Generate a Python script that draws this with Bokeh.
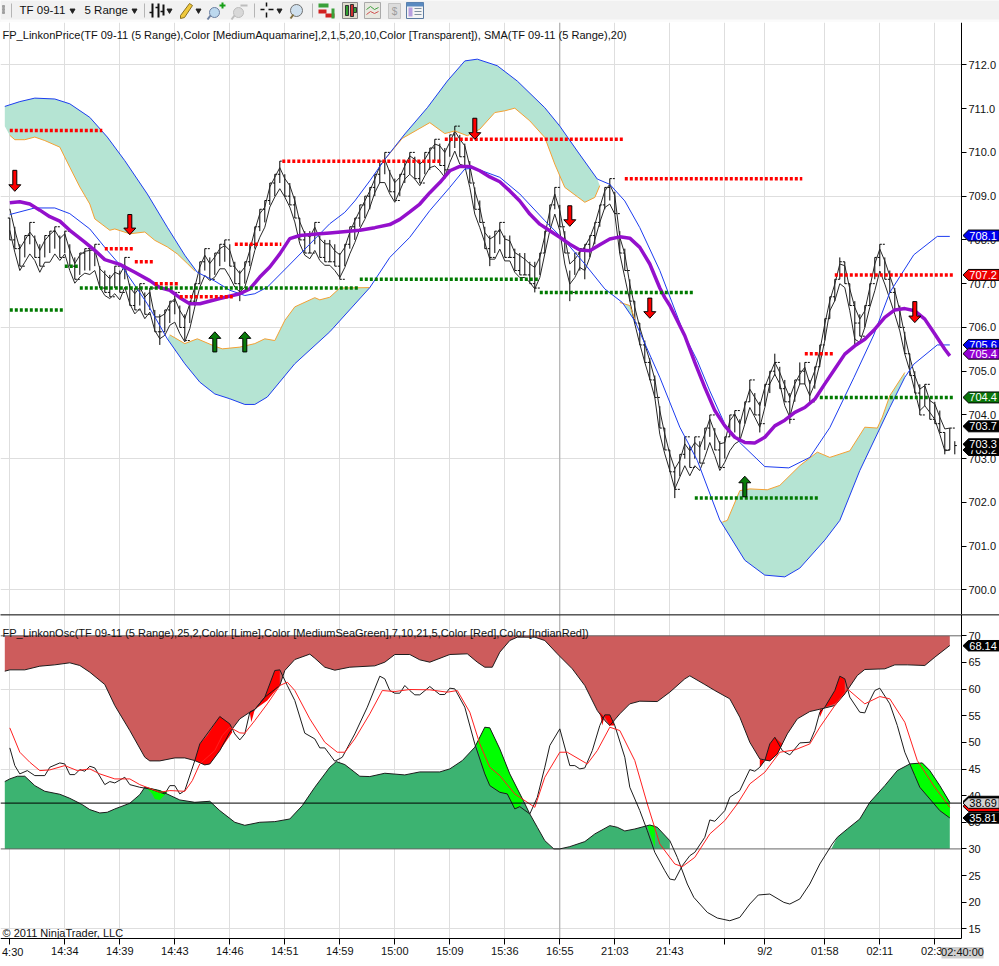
from bokeh.plotting import figure
from bokeh.layouts import column
from bokeh.models import FixedTicker, PrintfTickFormatter, Range1d, LinearAxis
from bokeh.core.properties import value
from bokeh.embed import file_html
from bokeh.resources import INLINE

FONT = "Liberation Sans"

# ---------- price panel data (bar index, price) ----------
bar_high = [
708.5,708.3,707.9,708.1,708.4,708.1,707.9,708.1,708.2,708.3,
708.1,708.2,707.9,707.6,707.7,707.8,707.8,707.9,707.4,707.3,
707.2,707.4,707.3,707.6,707.0,706.9,707.0,706.8,706.9,706.4,
706.3,706.4,706.6,706.8,706.5,706.3,706.6,707.0,707.5,707.8,
707.6,707.7,707.9,708.0,707.9,707.5,707.3,707.5,707.9,708.3,
708.7,708.9,709.3,709.5,709.8,709.5,709.3,709.0,708.5,708.2,
708.2,708.4,708.1,708.0,708.0,707.9,707.7,707.9,708.3,708.5,
708.8,709.0,709.2,709.5,709.8,710.0,709.6,709.4,709.5,709.8,
710.0,709.9,709.8,710.0,710.1,710.3,710.2,710.1,710.4,710.6,
710.4,710.2,709.8,709.2,708.9,708.3,708.1,708.2,708.4,708.1,
708.1,707.8,707.7,707.7,707.5,707.5,707.7,708.2,708.8,709.2,
708.8,708.2,707.3,707.7,707.8,707.9,708.1,708.4,708.8,709.2,
709.4,709.1,708.2,707.8,707.1,706.6,706.1,705.7,705.3,704.9,
704.2,703.7,703.2,702.8,703.1,703.5,703.3,703.5,703.4,703.7,
704.0,703.7,703.4,703.5,704.0,704.1,703.9,704.3,704.8,704.5,
704.3,704.7,705.0,705.4,705.1,704.8,704.5,704.8,705.2,705.2,
704.8,705.1,705.6,706.2,706.7,707.1,707.6,707.5,707.0,706.6,
706.3,706.5,707.0,707.6,707.9,707.6,707.3,706.9,706.5,705.9,
705.4,705.0,704.7,704.7,704.4,704.3,704.1,703.6,703.7,703.4]
bar_low = [
708.0,707.8,707.4,707.6,707.9,707.6,707.4,707.6,707.7,707.8,
707.6,707.7,707.4,707.1,707.2,707.3,707.3,707.4,706.9,706.8,
706.7,706.9,706.8,707.1,706.5,706.4,706.5,706.3,706.4,705.9,
705.6,705.9,706.1,706.3,706.0,705.7,706.1,706.5,707.0,707.3,
707.1,707.2,707.4,707.5,707.4,707.0,706.6,707.0,707.4,707.8,
708.2,708.4,708.8,709.0,709.3,709.0,708.8,708.5,708.0,707.7,
707.7,707.9,707.6,707.5,707.5,707.4,707.1,707.4,707.8,708.0,
708.3,708.5,708.7,709.0,709.3,709.5,709.1,708.9,709.0,709.3,
709.5,709.4,709.3,709.5,709.6,709.8,709.7,709.4,709.9,710.1,
709.9,709.7,709.3,708.7,708.4,707.8,707.4,707.7,707.9,707.6,
707.6,707.3,707.2,707.2,707.0,706.8,707.2,707.7,708.3,708.7,
708.3,707.7,706.6,707.2,707.3,707.1,707.6,707.9,708.3,708.7,
708.9,708.6,707.7,707.3,706.6,706.1,705.6,705.2,704.8,704.4,
703.7,703.2,702.7,702.1,702.6,703.0,702.8,703.0,702.9,703.2,
703.5,703.2,702.8,703.0,703.5,703.6,703.4,703.8,704.3,704.0,
703.6,704.2,704.5,704.9,704.6,704.3,703.8,704.3,704.7,704.7,
704.3,704.6,705.1,705.7,706.2,706.6,707.1,707.0,706.5,705.6,
705.8,706.0,706.5,707.1,707.4,707.1,706.8,706.4,706.0,705.4,
704.9,704.5,704.0,704.2,703.9,703.8,703.6,703.1,703.2,703.1]
bar_close = [
708.0,707.8,707.4,708.1,708.4,707.6,707.4,708.1,708.2,708.3,
707.6,708.2,707.4,707.1,707.7,707.8,707.8,707.9,706.9,706.8,
706.7,707.4,706.8,707.6,706.5,706.4,707.0,706.3,706.9,705.9,
705.9,706.4,706.6,706.8,706.0,705.7,706.6,707.0,707.5,707.8,
707.1,707.7,707.9,708.0,707.4,707.0,706.8,707.5,707.9,708.3,
708.7,708.9,709.3,709.5,709.8,709.0,708.8,708.5,708.0,707.7,
707.7,708.4,707.6,707.5,707.5,707.4,707.1,707.9,708.3,708.5,
708.8,709.0,709.2,709.5,709.8,710.0,709.1,708.9,709.5,709.8,
710.0,709.4,709.3,710.0,710.1,710.3,709.7,709.6,710.4,710.6,
709.9,709.7,709.3,708.7,708.4,707.8,707.6,708.2,708.4,707.6,
707.6,707.3,707.2,707.2,707.0,706.9,707.7,708.2,708.8,709.2,
708.3,707.7,706.8,707.7,707.8,707.9,708.1,708.4,708.8,709.2,
709.4,708.6,707.7,707.3,706.6,706.1,705.6,705.2,704.8,704.4,
703.7,703.2,702.7,702.3,703.1,703.5,702.8,703.5,702.9,703.7,
704.0,703.2,702.8,703.5,704.0,704.1,703.4,704.3,704.8,704.0,
703.8,704.7,705.0,705.2,704.6,704.3,703.9,704.8,705.0,705.2,
704.3,705.1,705.6,706.2,706.7,707.1,707.5,707.0,706.5,706.1,
705.8,706.5,707.0,707.6,707.9,707.1,706.8,706.4,706.0,705.4,
704.9,704.5,704.0,704.7,703.9,703.8,703.6,703.2,703.7,703.3]
line_upper = [
708.71,708.22,707.80,707.99,708.18,708.03,707.76,707.99,708.12,708.22,
708.03,708.14,707.76,707.46,707.65,707.74,707.76,707.77,707.34,707.23,
707.11,707.26,707.21,707.42,706.92,706.77,706.92,706.69,706.81,706.24,
706.24,706.31,706.54,706.66,706.39,706.20,706.54,706.92,707.38,707.65,
707.46,707.61,707.80,707.87,707.76,707.38,707.23,707.38,707.76,708.22,
708.60,708.75,709.21,709.43,709.65,709.40,709.24,708.90,708.41,708.14,
708.06,708.29,708.03,707.91,707.91,707.75,707.66,707.83,708.17,708.44,
708.67,708.89,709.12,709.39,709.69,709.84,709.54,709.31,709.43,709.69,
709.92,709.84,709.73,709.84,710.03,710.19,710.15,710.00,710.23,710.49,
710.30,710.15,709.69,709.12,708.74,708.17,708.02,708.09,708.25,708.02,
707.98,707.71,707.64,707.56,707.45,707.37,707.60,708.09,708.67,709.05,
708.67,708.06,707.45,707.56,707.71,707.85,708.05,708.35,708.75,709.12,
709.27,709.01,708.06,707.68,706.99,706.46,706.00,705.62,705.24,704.82,
704.10,703.56,703.11,702.77,702.96,703.34,703.18,703.37,703.26,703.56,
703.91,703.60,703.34,703.37,703.87,704.02,703.79,704.21,704.59,704.40,
704.21,704.63,704.93,705.20,704.97,704.67,704.40,704.71,704.93,705.09,
704.71,705.01,705.47,706.08,706.61,706.99,707.45,707.41,706.88,706.46,
706.19,706.38,706.91,707.45,707.79,707.52,707.18,706.84,706.38,705.81,
705.32,704.90,704.59,704.67,704.33,704.25,703.95,703.68,703.70]
line_lower = [
708.22,707.72,707.30,707.49,707.68,707.53,707.26,707.49,707.49,707.68,
707.53,707.68,707.30,707.01,707.15,707.24,707.21,707.30,706.92,706.73,
706.66,706.77,706.63,706.92,706.54,706.31,706.43,706.20,706.35,705.93,
705.74,705.82,706.05,706.12,705.86,705.67,705.97,706.47,706.92,707.19,
707.07,707.15,707.34,707.34,707.15,706.92,706.81,706.92,707.30,707.76,
708.06,708.29,708.75,708.98,709.17,708.98,708.75,708.41,707.91,707.65,
707.57,707.76,707.53,707.42,707.42,707.30,707.14,707.37,707.68,707.94,
708.25,708.47,708.74,709.08,709.31,709.31,709.05,708.86,709.12,709.39,
709.50,709.39,709.24,709.46,709.65,709.69,709.58,709.43,709.77,710.03,
709.73,709.69,709.20,708.59,708.28,707.94,707.56,707.56,707.79,707.52,
707.52,707.26,707.14,707.14,707.03,706.88,707.14,707.68,708.21,708.59,
708.21,707.45,706.99,707.14,707.37,707.30,707.60,708.00,708.40,708.74,
708.82,708.59,707.68,707.14,706.61,706.08,705.62,705.20,704.82,704.40,
703.56,703.11,702.73,702.31,702.58,702.84,702.61,702.84,702.73,703.03,
703.37,703.07,702.73,702.92,703.18,703.34,703.41,703.79,704.17,703.95,
703.72,704.17,704.71,704.93,704.71,704.21,703.95,704.40,704.71,704.71,
704.44,704.71,705.16,705.70,706.38,706.61,707.00,706.91,706.38,705.73,
705.66,706.00,706.46,706.84,707.29,706.99,706.65,706.30,705.92,705.39,
705.01,704.55,704.10,704.21,704.06,703.90,703.56,703.18,703.20]

sma_k = [0,2,4,6,8,10,12,15,17,19,22,25,28,30,32,34,36,38,42,46,48,50,52,54,56,58,62,64,70,73,76,78,80,82,84,86,88,90,92,94,96,98,100,102,104,106,108,110,112,114,116,118,120,122,124,126,128,130,131,132,135,137,139,141,143,145,147,149,151,153,155,157,159,161,163,165,167,169,171,173,175,177,179,181,183,185,187,188]
sma_v = [708.85,708.87,708.82,708.68,708.53,708.43,708.22,707.95,707.76,707.55,707.44,707.26,707.07,706.91,706.85,706.68,706.54,706.54,706.66,706.77,706.88,707.15,707.38,707.68,708.03,708.10,708.14,708.16,708.22,708.28,708.35,708.47,708.64,708.82,709.08,709.31,709.58,709.68,709.68,709.58,709.44,709.33,709.12,708.89,708.59,708.36,708.21,708.06,707.90,707.77,707.75,707.89,708.02,708.07,708.04,707.83,707.45,706.90,706.68,706.50,705.81,705.20,704.63,704.10,703.75,703.49,703.37,703.36,703.49,703.75,703.88,704.06,704.17,704.36,704.71,705.05,705.39,705.58,705.73,705.96,706.23,706.40,706.43,706.38,706.19,705.85,705.50,705.35]

band_up_k = [-1,2,5,9,12,16,19.5,23,27.5,31.5,35,37.5,41,44,47,49,51.5,55.5,64,67,69,72,75,79,83.5,87.5,91,93.5,97.5,101.5,107,110,113.5,117.5,120,123,126,130,135,137.5,140,143,146,151,155.8,160,164,168.8,172.8,176,180.8,185.5,188]
band_up_v = [711.05,711.16,711.24,711.22,711.11,710.8,710.35,709.81,709.05,708.29,707.65,707.26,707.06,706.85,706.73,706.77,706.92,707.38,708.37,708.63,708.89,709.35,709.84,710.42,711.02,711.63,712.09,712.13,711.98,711.63,711.02,710.6,710.03,709.39,709.27,708.89,708.28,707.3,705.81,705.24,704.55,703.79,703.37,702.82,702.79,703.03,703.71,704.85,705.83,706.8,707.66,708.08,708.08]
band_lo_k = [0,5,9,12,16,19.5,23,27.5,31.5,35,38,41,44,47,49,51.5,57,64,72,76,80,84,88,91,93,98,102,107,111,115,119,122.5,125,130,134,137.5,142,147,151,155,158,163,166,170,176,179,180.8,185.5,188]
band_lo_v = [708.58,708.73,708.73,708.6,708.25,707.76,707.3,706.54,705.74,705.17,704.75,704.48,704.37,704.24,704.24,704.41,705.17,705.9,706.91,707.6,708.06,708.67,709.2,709.62,709.64,709.43,709.05,708.44,707.98,707.45,706.88,706.57,706.15,704.86,703.72,702.96,701.6,700.68,700.34,700.3,700.5,701.14,701.59,702.73,704.17,704.86,705.16,705.6,705.6]

or1_k = [0,1,3,5,7,10,12,14,16,17,20,21,24,27,29,31.5,33.5,35.5,37]
or1_v = [710.39,710.29,710.29,710.35,710.27,710.12,709.66,709.21,708.82,708.48,708.22,708.25,708.14,708.18,707.99,707.84,707.68,707.46,707.29]
or2_k = [32,35,37.5,41,42.5,46,49,51,53,55,57,61,62,64,66,72]
or2_v = [705.83,705.63,705.74,705.57,705.51,705.55,705.63,705.74,705.70,706.16,706.47,706.68,706.63,706.69,706.90,706.91]
or3_k = [75,78.5,84,87,89,91.5,94,97,99,101,104,107,109,111,115,117,118]
or3_v = [709.84,710.32,710.68,710.43,710.49,710.38,710.53,710.91,710.95,711.01,710.72,710.34,709.73,709.20,708.86,708.97,709.24]
or4_k = [122,124,125]
or4_v = [706.57,706.50,706.19]
or5_k = [142.5,143.5,146,148,151.5,154,158,161.5,164,168,171,173.5,174.5,176,179]
or5_v = [701.55,701.59,702.27,702.31,702.29,702.39,702.84,703.15,703.03,703.18,703.72,703.70,703.95,704.44,704.97]

red_start = [0,19,25,29,34,45,54.5,87,123,159,165]
red_end   = [18.5,24.7,28.7,33.7,44.7,54.3,86.5,122.7,158.5,164.7,188.7]
red_level = [710.5,707.8,707.5,707.0,706.7,707.9,709.8,710.3,709.4,705.4,707.2]
green_start = [0,11,14,70,106,137,162]
green_end   = [10.7,13.7,69.7,105.7,136.7,161.7,188.7]
green_level = [706.4,707.4,706.9,707.1,706.8,702.1,704.4]

down_k = [1,24,93,112,128,181]
down_tail = [709.59,708.58,710.78,708.78,706.67,706.59]
down_tip = [709.11,708.12,710.30,708.31,706.21,706.11]
up_k = [41,47,147]
up_tail = [705.44,705.44,702.13]
up_tip = [705.90,705.90,702.60]

# ---------- oscillator panel data ----------
osc_top_k = [-1,0,3,6,9,12,14,16,19,21,24,27,28,30,33,35,37,39,40,42,44,46,48,49,51,54,55,57,60,61,63,65,68,73,75,77,80,82,84,88,91.5,93.5,95,96.5,98,100,101.5,105,107,109.5,112.5,115,117.5,119,120,122,124,126,129.5,132,135,136,139,141,144,146,148,150,152,153.5,155.5,157.5,160,162,165,167,169.5,171,175,177,179.5,183,185,188]
osc_top_v = [63.36,63.61,63.61,64.3,64.55,64.93,64.43,63.17,60.86,56.91,52.22,47.21,46.52,46.52,47.08,47.08,46.58,45.77,45.95,48.46,51.9,54.41,55.66,56.16,58.48,60.67,63.49,65.55,66.56,65.8,64.11,63.55,64.11,64.36,65.05,66.49,66.49,65.49,65.05,66.49,66.62,65.05,64.11,64.11,66.93,69.12,69.75,69.75,69.12,66.62,63.8,60.67,55.97,54.09,53.16,55.35,57.23,57.73,57.66,59.42,61.92,62.49,60.86,59.73,58.17,54.72,50.02,46.89,46.52,47.83,51.59,54.41,55.79,56.22,56.91,59.1,62.55,63.68,63.8,64.55,64.55,64.43,65.99,68.18]
osc_low_k = [-1,0,1.5,3,5,7,10,12,14.5,16,18,19.5,21,24,26,27,30,34,37,40,42,45,47,50,53,56,58.5,61,64,65.3,67,70,72,75,79,82,86,88,90.5,93,95,96,98,100,102.7,104,105.5,107,108.8,110,112,115,117,120,121.5,123,125,128,129.5,132,133.5,135.5,136.8,139.5,141.5,144,146,148,149.7,152,154.8,156,158,160,162,164.5,165.5,167.5,170,172,175,177.5,180,182.5,184,186,188]
osc_low_v = [42.64,43.14,43.64,43.64,41.88,40.82,40.26,39.5,38.31,37.38,36.75,36.88,37.5,38.57,40.19,41.57,40.95,39.19,38.75,38.94,37.19,35.0,34.43,35.0,35.12,35.62,38.13,41.57,45.33,46.39,45.83,43.64,43.58,44.2,43.89,44.45,44.45,45.02,46.58,49.09,52.84,52.72,48.77,44.08,39.07,36.56,34.06,31.55,30.0,30.0,30.43,31.37,32.81,34.37,34.06,33.37,33.74,34.49,34.06,31.55,28.42,23.41,20.91,18.09,17.03,16.52,17.15,19.65,21.35,21.53,19.97,19.65,20.6,23.41,27.17,30.93,32.18,33.74,35.62,38.75,41.88,44.7,45.95,46.14,44.7,41.88,38.75]
fast_k = [0,1,2,3.5,5,7,8,10,11,12,13,14,15,16,17,19,20,21,23,24,26,28,31,32,33,34,35,37,38,42,44,45,46,47,48,49,51,53,54,55.5,57,59,61,62,63,65,66.5,69,71.5,74,75,76,77,78,79,80,81,82,84,86,87,88,89,91,93,95,96,98,99.5,101,102,104,105.5,107,108,110,112,113,114,115,116.5,118,119,120,121,123,124,126,127.5,129,131,132,133,134.5,136,137,139,140,141,143,144,146,148,149,150,151,152,153,154.5,156,158,160,161,162,163,165,166,167,168,170,171,172,173,174,176,177.5,179,181,182,184,186,188]
fast_v = [48.96,45.64,44.08,44.7,43.76,43.76,45.33,46.14,45.95,43.95,43.95,44.89,44.58,45.52,45.2,42.07,42.64,42.39,43.45,42.07,41.57,41.26,40.32,41.88,41.88,40.32,40.95,46.58,49.71,54.85,53.47,51.59,50.46,51.59,55.66,56.16,58.48,63.49,63.61,60.67,57.85,51.72,50.65,48.96,48.96,46.46,47.21,51.59,56.6,62.42,61.92,59.73,59.23,59.23,60.67,59.73,58.92,58.92,60.48,58.98,58.98,60.17,60.04,56.6,49.71,44.08,41.88,40.63,40.32,37.5,37.94,36.56,39.69,45.33,49.4,52.53,45.64,45.64,45.02,45.2,48.46,53.16,55.16,55.16,53.16,47.21,41.57,37.19,33.43,29.36,25.92,24.35,24.16,26.86,28.73,29.36,32.18,35.44,35.19,37.19,39.69,40.95,44.89,44.58,45.33,46.58,49.71,50.96,48.46,47.65,49.9,50.02,52.22,55.66,56.6,59.73,62.42,61.92,58.48,55.66,55.54,57.85,59.73,60.17,57.23,53.16,48.15,43.76,41.57,39.38,37.19,35.81]
slow_k = [0,2,4,6,8,11,13.5,16,18,21,24,26,30,32,35,36.5,38,41,42.5,44,46,47,49,51.5,54,55.5,57,60,63,65.5,67,69,72,74.5,77,80,84,87.5,89.5,92,94,96,98,101,105,107,110,111.5,115.5,117.5,120,122,125,127.5,130,133,134.5,137,140,143,145.5,148,151,154,157,160,162,165,167.5,171,174,176,179,181.5,185,188]
slow_v = [52.72,48.15,46.27,44.7,44.83,45.64,44.7,45.02,44.08,43.14,43.14,42.07,40.63,40.95,40.82,42.82,45.95,48.46,51.28,52.84,51.78,51.72,54.09,57.23,60.67,61.3,59.73,54.41,50.02,48.15,48.15,50.65,55.35,59.73,59.54,59.92,59.86,59.42,59.73,55.66,49.71,45.33,43.76,40.32,37.81,43.45,48.15,48.15,45.95,48.46,52.84,52.22,46.58,38.44,30.93,27.17,26.67,28.42,32.81,35.31,38.44,42.2,44.39,48.15,48.58,49.71,52.84,56.91,60.04,57.23,58.6,58.17,53.78,46.58,41.57,37.81]

hot_red_k = [[37,38,39.5,42,44,44.5,42,40,39],[48,49,48.3],[49,51,53,54,54,51.5],[118,118.5,119,120,121,120,119],[150,151,150],[151,152,153,154.5,153.5,152],[162,162.7,162],[163,165,166,167,167,165]]
hot_red_v = [[46.58,49.71,51.28,54.91,53.47,51.9,48.46,45.95,45.77],[55.66,56.16,53.78],[56.16,58.48,63.49,63.61,60.67,57.85],[55.66,53.16,55.16,55.16,53.16,53.16,54.72],[46.89,46.58,45.33],[46.58,49.71,50.96,49.71,47.71,46.52],[56.22,56.22,54.72],[56.6,59.73,62.42,61.92,59.1,57.23]]
hot_green_k = [[27.3,30,31.5,30,29,28.5],[93.3,95,96,98,100,102.7,102,101,99.5,98,96,95],[127.5,129,129],[180,182.5,184,186,188,188,186,184,182,181]]
hot_green_v = [[41.57,40.95,40.63,39.19,39.38,40.32],[49.71,52.84,52.72,48.77,44.08,39.07,37.94,37.5,40.32,40.63,41.88,44.08],[34.4,34.4,30.3],[45.95,46.14,44.7,41.88,38.75,35.81,37.19,39.38,41.57,43.76]]

pane_line = 38.6
x_ticks = [0,11,22,33,44,55,66,77,88,99,110,121,132,143,151,163,174,185]
x_labels = ["","14:34","14:39","14:43","14:46","14:51","14:59","15:00","15:09","15:36","16:55","21:03","21:43","","9/2","01:58","02:11","02:30"]
price_ticks = [700,701,702,703,704,705,706,707,708,709,710,711,712]
price_grid = [700,703,706,709,712]
osc_ticks = [15,20,25,30,35,40,45,50,55,60,65,70]
osc_grid = [15,45,60]

price_tags = [(703.2,"703.2","#000000","#ffffff"),(703.33,"703.3","#000000","#ffffff"),(703.74,"703.7","#000000","#ffffff"),
              (704.4,"704.4","#0b760b","#ffffff"),(705.6,"705.6","#0000ee","#ffffff"),(705.4,"705.4","#9400d3","#ffffff"),
              (707.2,"707.2","#ee0000","#ffffff"),(708.1,"708.1","#0000ee","#ffffff")]
osc_tags = [(68.14,"68.14","#000000","#ffffff"),(38.9,"","#000000","#ffffff"),(38.0,"","#ff0000","#ffffff"),
            (35.81,"35.81","#000000","#ffffff"),(38.6,"38.69","#d3d3d3","#000000")]

PRICE_TITLE = "FP_LinkonPrice(TF 09-11 (5 Range),Color [MediumAquamarine],2,1,5,20,10,Color [Transparent]), SMA(TF 09-11 (5 Range),20)"
OSC_TITLE = "FP_LinkonOsc(TF 09-11 (5 Range),25,2,Color [Lime],Color [MediumSeaGreen],7,10,21,5,Color [Red],Color [IndianRed])"
COPY = "\u00a9 2011 NinjaTrader, LLC"

TEAL = "#b5e4d3"
ORANGE = "#f5a033"
BLUE = "#1c3cf0"
BLACK = "#262626"
GRID = "#dedede"
KMIN, KAXIS, KMAX = -1.86, 190.34, 197.94


def pick(ks, vs, lo, hi):
    pts = [(k, v) for k, v in zip(ks, vs) if lo <= k <= hi]
    return [a for a, _ in pts], [b for _, b in pts]


def tag(fig, y, text, fill, color, half):
    fig.patch([190.64, 191.74, 197.9, 197.9, 191.74], [y, y + half, y + half, y - half, y - half],
              fill_color=fill, line_color="#000000", line_width=1, level="annotation")
    if text:
        fig.text([191.9], [y], text=[text], text_color=color, text_font=value(FONT), text_font_size="11px",
                 text_baseline="middle", level="annotation")


def style_axis(ax):
    ax.major_label_text_font = FONT
    ax.major_label_text_font_size = "11px"
    ax.major_label_text_color = "#111111"
    ax.major_tick_in = 0
    ax.major_tick_line_color = "#000000"
    ax.axis_line_color = "#000000"
    ax.minor_tick_line_color = None


# ---------- toolbar ----------
tb = figure(width=999, height=22, x_range=Range1d(0, 999), y_range=Range1d(22, 0), output_backend="svg",
            toolbar_location=None, x_axis_location=None, y_axis_location=None, min_border=0,
            background_fill_color="#f1f1f1", border_fill_color="#f1f1f1", outline_line_color=None)
tb.grid.visible = False
tb.quad(left=[0], right=[999], top=[19], bottom=[22], fill_color="#fbfbfb", line_color=None)
for sx in [11, 144, 254, 312]:
    tb.segment([sx], [3], [sx], [17], line_color="#b5b5b5")
tb.scatter([3, 3, 3], [6, 9, 12], size=2, marker="square", color="#a0a0a0")
tb.text([19, 84], [9.5, 9.5], text=["TF 09-11", "5 Range"], text_font=value(FONT), text_font_size="11.5px",
        text_baseline="middle", text_color="#111111")
tb.scatter([72, 134, 169, 198, 279], [10, 10, 10, 10, 10], marker="inverted_triangle", size=5, color="#222222")
tb.segment([152, 158, 163], [3, 3, 4], [152, 158, 163], [17, 17, 15], line_color="#111111", line_width=2)
tb.segment([149, 155, 160], [12, 7, 11], [152, 158, 163], [12, 7, 11], line_color="#111111", line_width=1.5)
tb.patch([180, 189, 192, 184, 180], [15, 3, 5, 17, 18], fill_color="#f0c93c", line_color="#8a7020")
tb.circle([214, 238], [12, 12], radius=5, fill_color=["#bcd8ee", "#d8d8d8"], line_color=["#6c7fa0", "#bdbdbd"])
tb.segment([210, 234], [15, 15], [207, 231], [19, 19], line_color=["#6c7fa0", "#bdbdbd"], line_width=2)
tb.segment([222, 219, 240], [2, 5, 5], [222, 225, 247], [8, 5, 5], line_color=["#18a018", "#18a018", "#bdbdbd"], line_width=2)
tb.segment([260, 268, 266, 266], [9, 9, 2, 12], [264, 273, 266, 266], [9, 9, 6, 17], line_color="#111111", line_width=1.5)
tb.circle([296], [10], radius=6, fill_color="#cfe0ee", line_color="#707070")
tb.segment([293], [14], [290], [18], line_color="#807040", line_width=2)
tb.quad([318, 318, 325, 331], [328, 326, 334, 334], [3, 9, 13, 8], [7, 13, 17, 18], fill_color=["#3aa03a", "#d02020", "#d02020", "#3aa03a"], line_color=None)
tb.quad([342], [357], [2], [18], fill_color="#dfdccc", line_color="#888888")
tb.quad([345, 350, 353], [348, 353, 356], [5, 4, 7], [15, 16, 12], fill_color=["#30a030", "#cc3030", "#30a030"], line_color="#333333")
tb.quad([364], [380], [2], [18], fill_color="#e8e8e0", line_color="#aaaaaa")
tb.line([366, 370, 374, 378], [9, 6, 9, 7], line_color="#40a040")
tb.line([366, 370, 374, 378], [14, 11, 13, 11], line_color="#d05050")
tb.quad([388], [400], [3], [18], fill_color="#dcdcdc", line_color="#c4c4c4")
tb.text([394], [11], text=["$"], text_font=value(FONT), text_font_size="10px", text_align="center",
        text_baseline="middle", text_color="#9c9c9c")
tb.quad([406], [423], [2], [18], fill_color="#f4f4f4", line_color="#5a7aa0")
tb.quad([406, 408], [423, 412], [2, 7], [6, 16], fill_color=["#5a8ac0", "#b8a0e0"], line_color=None)
tb.segment([414, 414, 414], [8, 11, 14], [421, 421, 421], [8, 11, 14], line_color="#8090a0")

# ---------- price panel ----------
P_MIN, P_MAX = 699.44, 712.968
p = figure(width=999, height=592, x_range=Range1d(KMIN, KMAX), y_range=Range1d(P_MIN, P_MAX), output_backend="svg",
           toolbar_location=None, x_axis_location=None, y_axis_location=None, min_border=0, outline_line_color=None,
           background_fill_color="#ffffff", border_fill_color="#ffffff")
p.ygrid.ticker = FixedTicker(ticks=price_grid)
p.xgrid.ticker = FixedTicker(ticks=x_ticks)
p.grid.grid_line_color = GRID
pa = LinearAxis(fixed_location=KAXIS, ticker=FixedTicker(ticks=price_ticks), formatter=PrintfTickFormatter(format="%.1f"),
                major_tick_out=5, major_label_standoff=2)
style_axis(pa)
p.add_layout(pa, "right")
p.quad([KAXIS], [KMAX], [P_MAX], [P_MIN], fill_color="#ffffff", line_color=None)
p.segment([110], [P_MIN], [110], [P_MAX], line_color="#a8a8a8", line_width=1)

xa, ya = pick(band_up_k, band_up_v, -1, 37.5)
p.patch(xa + or1_k[::-1] + [-1], ya + or1_v[::-1] + [710.6], fill_color=TEAL, line_color=None)
xa, ya = pick(band_lo_k, band_lo_v, 31.5, 72)
p.patch(xa + or2_k[::-1], ya + or2_v[::-1], fill_color=TEAL, line_color=None)
xa, ya = pick(band_up_k, band_up_v, 75, 117.5)
p.patch(xa + or3_k[::-1], ya + or3_v[::-1], fill_color=TEAL, line_color=None)
xa, ya = pick(band_lo_k, band_lo_v, 122.5, 125)
p.patch(xa + or4_k[::-1], ya + or4_v[::-1], fill_color=TEAL, line_color=None)
xa, ya = pick(band_lo_k, band_lo_v, 142, 179)
p.patch(xa + or5_k[::-1], ya + or5_v[::-1], fill_color=TEAL, line_color=None)

bk = list(range(len(bar_high)))
bar_open = [bar_high[0]] + bar_close[:-1]
p.segment(bk, bar_high, bk, bar_low, line_color="#000000", line_width=1)
p.segment([k - 0.4 for k in bk], bar_open, bk, bar_open, line_color="#000000", line_width=1)
p.segment(bk, bar_close, [k + 0.4 for k in bk], bar_close, line_color="#000000", line_width=1)
lk = list(range(len(line_upper)))
p.line(lk, line_upper, line_color=BLACK, line_width=1)
p.line(lk, line_lower, line_color=BLACK, line_width=1)

for ok, ov in [(or1_k, or1_v), (or2_k, or2_v), (or3_k, or3_v), (or4_k, or4_v), (or5_k, or5_v)]:
    p.line(ok, ov, line_color=ORANGE, line_width=1)
p.line(band_up_k, band_up_v, line_color=BLUE, line_width=1)
p.line(band_lo_k, band_lo_v, line_color=BLUE, line_width=1)
p.line(sma_k, sma_v, line_color="#9410cc", line_width=3.5)

for a, b, y in zip(red_start, red_end, red_level):
    p.line([a, b], [y, y], line_color="#ff0000", line_width=3.5, line_dash="3 2")
for a, b, y in zip(green_start, green_end, green_level):
    p.line([a, b], [y, y], line_color="#007a00", line_width=3.5, line_dash="3 2")


def arrows(ks, tails, tips, color):
    xs, ys = [], []
    for k, t, h in zip(ks, tails, tips):
        head = h + (0.15 if t > h else -0.15)
        xs.append([k - 0.4, k + 0.4, k + 0.4, k + 1.2, k, k - 1.2, k - 0.4])
        ys.append([t, t, head, head, h, head, head])
    p.patches(xs, ys, fill_color=color, line_color="#000000", line_width=1)


arrows(down_k, down_tail, down_tip, "#ff0000")
arrows(up_k, up_tail, up_tip, "#0a7a0a")

p.text([-1.46], [712.69], text=[PRICE_TITLE], text_font=value(FONT), text_font_size="11.05px", text_baseline="middle", text_color="#111111")

for y, t, f, c in price_tags:
    tag(p, y, t, f, c, 0.125)

# ---------- oscillator panel ----------
O_AXIS, O_TOP, O_MIN = 13.18, 74.0, 7.93
q = figure(width=999, height=352, x_range=Range1d(KMIN, KMAX), y_range=Range1d(O_MIN, O_TOP), output_backend="svg",
           toolbar_location=None, x_axis_location=None, y_axis_location=None, min_border=0, outline_line_color=None,
           background_fill_color="#ffffff", border_fill_color="#ffffff")
q.ygrid.ticker = FixedTicker(ticks=osc_grid)
q.xgrid.ticker = FixedTicker(ticks=x_ticks)
q.grid.grid_line_color = GRID
qy = LinearAxis(fixed_location=KAXIS, ticker=FixedTicker(ticks=osc_ticks), bounds=(O_AXIS, O_TOP),
                major_tick_out=5, major_label_standoff=2)
style_axis(qy)
q.add_layout(qy, "right")
qx = LinearAxis(fixed_location=O_AXIS, ticker=FixedTicker(ticks=x_ticks), bounds=(KMIN, KAXIS),
                major_label_overrides={k: l for k, l in zip(x_ticks, x_labels)}, major_tick_out=6, major_label_standoff=0)
style_axis(qx)
q.add_layout(qx, "below")
q.quad([KAXIS], [KMAX], [O_TOP], [O_MIN], fill_color="#ffffff", line_color=None)
q.quad([KMIN], [KMAX], [O_AXIS], [O_MIN], fill_color="#ffffff", line_color=None)
q.segment([110], [O_AXIS], [110], [O_TOP], line_color="#a8a8a8", line_width=1)

q.patch(osc_top_k + [188, -1], osc_top_v + [70, 70], fill_color="#cd5c5c", line_color=None)
xa, ya = pick(osc_low_k, osc_low_v, -1, 132)
q.patch(xa + [132, -1], ya + [30, 30], fill_color="#3cb371", line_color=None)
xa, ya = pick(osc_low_k, osc_low_v, 165.5, 188)
q.patch([164.3] + xa + [188], [30] + ya + [30], fill_color="#3cb371", line_color=None)
q.patches(hot_red_k, hot_red_v, fill_color="#ff0000", line_color=None)
q.patches(hot_green_k, hot_green_v, fill_color="#00ff00", line_color=None)
q.line([KMIN, KAXIS], [70, 70], line_color="#666666", line_width=1)
q.line([KMIN, KAXIS], [30, 30], line_color="#666666", line_width=1)
q.line(osc_top_k, osc_top_v, line_color="#1c1c1c", line_width=1)
q.line(osc_low_k, osc_low_v, line_color="#1c1c1c", line_width=1)
q.line(fast_k, fast_v, line_color="#1c1c1c", line_width=1)
q.line(slow_k, slow_v, line_color="#ff2020", line_width=1)
q.line([KMIN, KAXIS], [pane_line, pane_line], line_color="#000000", line_width=1)

q.text([-1.46], [70.6], text=[OSC_TITLE], text_font=value(FONT), text_font_size="11px", text_baseline="middle", text_color="#111111")
q.text([-1.46], [14.3], text=[COPY], text_font=value(FONT), text_font_size="11px", text_baseline="middle", text_color="#111111")
q.text([-1.56], [10.74], text=["4:30"], text_font=value(FONT), text_font_size="11px", text_baseline="middle", text_color="#111111")

for y, t, f, c in osc_tags:
    tag(q, y, t, f, c, 0.98)

q.line([KMIN, KMAX], [73.93, 73.93], line_color="#000000", line_width=1, level="annotation")
q.quad([186.34], [194.74], [11.59], [9.43], fill_color="#cfcfcf", line_color=None, level="annotation")
q.text([190.54], [10.6], text=["02:40:00"], text_color="#111111", text_font=value(FONT), text_font_size="11px",
       text_baseline="middle", text_align="center", level="annotation")

page = column(tb, p, q, spacing=0)
open("out.html", "w").write(file_html(page, INLINE))
